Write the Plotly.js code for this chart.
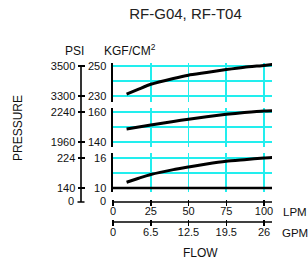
<!DOCTYPE html>
<html>
<head>
<meta charset="utf-8">
<script src="https://cdn.plot.ly/plotly-3.0.1.min.js"></script>
<style>html,body{margin:0;padding:0;background:#fff;}#chart{width:308px;height:264px;}</style>
</head>
<body>
<div id="chart"></div>
<script>
// ---- data ----
const flowLPM   = [9, 17, 25, 40, 50, 62, 75, 87, 100, 106];
const kgfHigh   = [231.3, 234.6, 237.8, 241.7, 243.9, 245.6, 247.6, 249.2, 250.4, 251.1];
const kgfMid    = [148.7, 150.0, 151.3, 153.7, 155.2, 156.9, 158.5, 159.6, 160.6, 160.8];
const kgfLow    = [11.16, 11.95, 12.7, 13.68, 14.2, 14.8, 15.35, 15.67, 16.0, 16.1];

const lpmTicks  = [0, 25, 50, 75, 100];
const gpmLabels = ['0', '6.5', '12.5', '19.5', '26'];

// KGF/CM2 labelled ticks and the unlabelled middle grid line of each band
const kgfTopTicks = [230, 250];  const kgfTopMinor = [240];
const kgfMidTicks = [140, 160];  const kgfMidMinor = [150];
const kgfLowTicks = [10, 16];    const kgfLowMinor = [13];

// PSI equivalents shown on the outer scale
const psiTopText = ['3300', '3500'];
const psiMidText = ['1960', '2240'];
const psiLowText = ['140', '224'];
const baselineKgf = 10;

// ---- geometry helpers (pixels -> paper) ----
const W = 308, H = 264;
const M = {l: 40, r: 36, t: 60, b: 39};
const PW = W - M.l - M.r, PH = H - M.t - M.b;
const fx = px => (px - M.l) / PW;
const fy = py => (H - M.b - py) / PH;

const CYAN = '#22eeee';
const FONT = 'Liberation Sans, Arial, Helvetica, sans-serif';
const INK = '#111';

function curve(y, yaxis) {
  return {x: flowLPM, y: y, xaxis: 'x', yaxis: yaxis, type: 'scatter', mode: 'lines',
          line: {color: '#000', width: 3, shape: 'spline', smoothing: 0.5},
          hoverinfo: 'skip', showlegend: false};
}
// empty holders so that the secondary (PSI / GPM) axes get drawn
function holder(xa, ya) {
  return {x: [null], y: [null], xaxis: xa, yaxis: ya, type: 'scatter', mode: 'lines',
          hoverinfo: 'skip', showlegend: false};
}
const data = [curve(kgfHigh, 'y'), curve(kgfMid, 'y2'), curve(kgfLow, 'y3'),
              holder('x', 'y4'), holder('x', 'y5'), holder('x', 'y6'), holder('x2', 'y3')];

function kgfAxis(dom, range, vals, minorVals) {
  return {domain: [fy(dom[1]), fy(dom[0])], range: range, anchor: 'x',
          tickmode: 'array', tickvals: vals, ticktext: vals.map(String), ticks: '',
          minor: {tickmode: 'array', tickvals: minorVals, ticks: '', showgrid: true, gridcolor: CYAN, gridwidth: 2},
          showline: true, linecolor: '#000', linewidth: 2.5,
          showgrid: true, gridcolor: CYAN, gridwidth: 2, zeroline: false,
          ticklabelstandoff: 2, tickfont: {family: FONT, size: 11, color: INK}, fixedrange: true};
}
function psiAxis(over, range, vals, text) {
  return {overlaying: over, anchor: 'free', position: fx(84.5), side: 'left', range: range,
          tickmode: 'array', tickvals: vals, ticktext: text,
          ticks: 'outside', ticklen: 7, tickwidth: 1.5, tickcolor: '#000',
          showline: false, showgrid: false, zeroline: false,
          tickfont: {family: FONT, size: 11, color: INK}, fixedrange: true};
}

const topR = [226, 252], midR = [136.667, 162.667], lowR = [9.2, 17];

const layout = {
  width: W, height: H, margin: M, paper_bgcolor: '#fff', plot_bgcolor: '#fff',
  showlegend: false,
  font: {family: FONT, color: INK},
  title: {text: 'RF-G04, RF-T04', font: {family: FONT, size: 15, color: '#222'},
          xref: 'paper', x: fx(185.5), xanchor: 'center', yref: 'container', y: 1 - 14 / H, yanchor: 'middle'},
  xaxis: {domain: [fx(113), 1], range: [0, 105.3], anchor: 'free', position: fy(198.5),
          tickmode: 'array', tickvals: lpmTicks, ticks: 'outside', ticklen: 6.5, tickwidth: 1.5, tickcolor: '#000',
          showline: false, showgrid: true, gridcolor: CYAN, gridwidth: 1.8, zeroline: false,
          ticklabelstandoff: -4,
          tickfont: {family: FONT, size: 11, color: INK}, fixedrange: true},
  xaxis2: {overlaying: 'x', range: [0, 105.3], anchor: 'free', position: fy(218.5),
          tickmode: 'array', tickvals: lpmTicks, ticktext: gpmLabels, ticks: 'outside', ticklen: 6.5, tickwidth: 1.5, tickcolor: '#000',
          showline: false, showgrid: false, zeroline: false,
          ticklabelstandoff: -3,
          tickfont: {family: FONT, size: 11, color: INK}, fixedrange: true},
  yaxis:  kgfAxis([63, 102], topR, kgfTopTicks, kgfTopMinor),
  yaxis2: kgfAxis([108, 147], midR, kgfMidTicks, kgfMidMinor),
  yaxis3: kgfAxis([153, 192], lowR, kgfLowTicks, kgfLowMinor),
  yaxis4: psiAxis('y', topR, kgfTopTicks, psiTopText),
  yaxis5: psiAxis('y2', midR, kgfMidTicks, psiMidText),
  yaxis6: psiAxis('y3', lowR, kgfLowTicks, psiLowText),
  shapes: [
    // 10 KGF baseline
    {type: 'line', xref: 'x domain', x0: 0, x1: 1, yref: 'y3', y0: baselineKgf, y1: baselineKgf,
     line: {color: '#000', width: 2.5}},
    // LPM axis line
    {type: 'line', xref: 'x domain', x0: 0, x1: 1, yref: 'paper', y0: fy(202), y1: fy(202),
     line: {color: '#000', width: 1.5}},
    // GPM axis line
    {type: 'line', xref: 'x domain', x0: 0, x1: 1, yref: 'paper', y0: fy(222), y1: fy(222),
     line: {color: '#000', width: 1.5}},
    // PSI axis line
    {type: 'line', xref: 'paper', x0: fx(81), x1: fx(81), yref: 'paper', y0: fy(202), y1: fy(66),
     line: {color: '#000', width: 1.6}},
    // PSI zero tick
    {type: 'line', xref: 'paper', x0: fx(77.5), x1: fx(84.5), yref: 'paper', y0: fy(202), y1: fy(202),
     line: {color: '#000', width: 1.5}}
  ],
  annotations: [
    {text: 'PSI', xref: 'paper', yref: 'paper', x: fx(74.5), y: fy(51), showarrow: false,
     xanchor: 'center', yanchor: 'middle', font: {family: FONT, size: 12, color: INK}},
    {text: 'KGF/CM<sup>2</sup>', xref: 'paper', yref: 'paper', x: fx(129.5), y: fy(50), showarrow: false,
     xanchor: 'center', yanchor: 'middle', font: {family: FONT, size: 12, color: INK}},
    {text: 'PRESSURE', xref: 'paper', yref: 'paper', x: fx(17.5), y: fy(128.5), showarrow: false, textangle: -90,
     xanchor: 'center', yanchor: 'middle', font: {family: FONT, size: 12, color: INK}},
    {text: 'FLOW', xref: 'paper', yref: 'paper', x: fx(200), y: fy(253), showarrow: false,
     xanchor: 'center', yanchor: 'middle', font: {family: FONT, size: 12, color: INK}},
    {text: 'LPM', xref: 'paper', yref: 'paper', x: fx(294.5), y: fy(212), showarrow: false,
     xanchor: 'center', yanchor: 'middle', font: {family: FONT, size: 11.5, color: INK}},
    {text: 'GPM', xref: 'paper', yref: 'paper', x: fx(294.5), y: fy(233), showarrow: false,
     xanchor: 'center', yanchor: 'middle', font: {family: FONT, size: 11.5, color: INK}},
    {text: '0', xref: 'paper', yref: 'paper', x: fx(107.5), y: fy(201), showarrow: false,
     xanchor: 'right', yanchor: 'middle', font: {family: FONT, size: 11, color: INK}},
    {text: '0', xref: 'paper', yref: 'paper', x: fx(75.5), y: fy(201), showarrow: false,
     xanchor: 'right', yanchor: 'middle', font: {family: FONT, size: 11, color: INK}}
  ]
};

Plotly.newPlot('chart', data, layout, {staticPlot: true, displayModeBar: false});
</script>
</body>
</html>
